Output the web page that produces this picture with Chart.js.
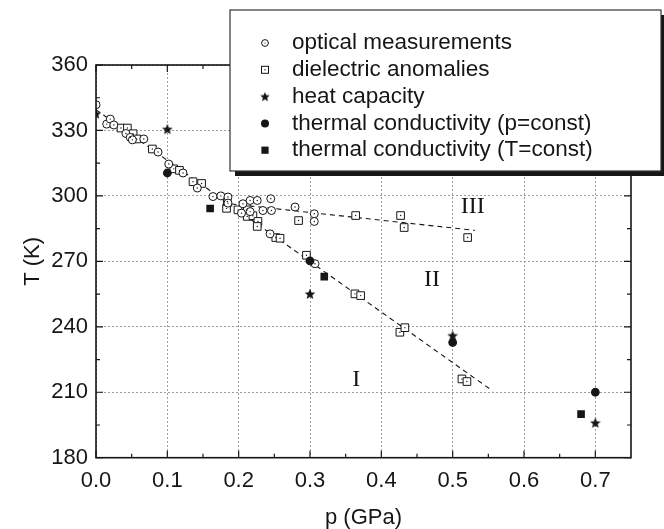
<!DOCTYPE html>
<html>
<head>
<meta charset="utf-8">
<script src="https://cdn.jsdelivr.net/npm/chart.js"></script>
<style>
  html, body { margin: 0; padding: 0; background: #fff; }
  #wrap { width: 664px; height: 529px; }
</style>
</head>
<body>
<div id="wrap"><canvas id="phaseChart" width="664" height="529"></canvas></div>
<script>
// values, p in GPa, T in K
const opticalP = [0.000, 0.015, 0.020, 0.025, 0.042, 0.048, 0.051, 0.067, 0.087, 0.102, 0.122, 0.142,
  0.164, 0.175, 0.185, 0.185, 0.204, 0.206, 0.216, 0.216, 0.226, 0.234, 0.244, 0.245, 0.246, 0.279,
  0.306, 0.306, 0.307];
const opticalT = [341.8, 332.9, 335.2, 332.5, 328.6, 326.8, 325.7, 326.1, 320.1, 314.6, 310.5, 303.6,
  299.7, 300.0, 299.5, 296.7, 292.1, 296.4, 297.9, 292.8, 297.9, 293.3, 282.6, 298.7, 293.3, 294.9,
  291.8, 288.3, 268.9];

const dielectricP = [0.035, 0.044, 0.052, 0.057, 0.079, 0.109, 0.117, 0.136, 0.148, 0.183, 0.184, 0.199,
  0.212, 0.212, 0.220, 0.227, 0.226, 0.252, 0.258, 0.284, 0.295, 0.364, 0.363, 0.371, 0.427, 0.432,
  0.426, 0.433, 0.513, 0.520, 0.521];
const dielectricT = [331.1, 331.1, 328.5, 326.1, 321.5, 312.4, 311.7, 306.5, 305.7, 294.3, 297.4, 293.6,
  290.6, 293.6, 290.9, 288.3, 286.0, 280.9, 280.6, 288.7, 272.8, 291.0, 255.1, 254.3, 291.0, 285.5,
  237.5, 239.6, 216.1, 214.9, 280.9];

const heatP = [0.0, 0.1, 0.3, 0.5, 0.7];
const heatT = [337.7, 330.6, 255.1, 236.0, 196.0];

const condPconstP = [0.1, 0.3, 0.5, 0.7];
const condPconstT = [310.5, 270.2, 232.8, 210.0];

const condTconstP = [0.16, 0.32, 0.68];
const condTconstT = [294.2, 263.0, 200.0];

// dashed phase boundaries
const boundaryIP = [0.0, 0.556];
const boundaryIT = [339.5, 210.6];
const boundaryIIIP = [0.19, 0.531];
const boundaryIIIT = [296.3, 284.2];

// phase labels
const regionNames = ['I', 'II', 'III'];
const regionP = [0.365, 0.471, 0.528];
const regionT = [215.6, 261.5, 295.0];

const xTicks = [0.0, 0.1, 0.2, 0.3, 0.4, 0.5, 0.6, 0.7];
const yTicks = [180, 210, 240, 270, 300, 330, 360];

const toPoints = (ps, ts) => ps.map((p, i) => ({ x: p, y: ts[i] }));

const INK = '#161616';

// filled five-point star, drawn at a larger scale so the edges stay dark
function makeStar(s) {
  const size = Math.ceil(s * 2 + 2);
  const c = document.createElement('canvas');
  c.width = size; c.height = size;
  const g = c.getContext('2d');
  const m = size / 2;
  g.fillStyle = INK;
  g.beginPath();
  for (let i = 0; i < 10; i++) {
    const r = i % 2 === 0 ? s : s * 0.45;
    const ang = -Math.PI / 2 + i * Math.PI / 5;
    g.lineTo(m + r * Math.cos(ang), m + r * Math.sin(ang) + s * 0.08);
  }
  g.closePath();
  g.fill();
  return c;
}
const starMarker = makeStar(5.6);
const starLegend = makeStar(5.0);

const openStyle = (shape, r) => ({
  showLine: false,
  pointStyle: shape,
  pointRadius: r,
  pointHoverRadius: r,
  pointBorderWidth: 1,
  pointBorderColor: INK,
  pointBackgroundColor: '#fff'
});
const solidStyle = (shape, r) => ({
  showLine: false,
  pointStyle: shape,
  pointRadius: r,
  pointHoverRadius: r,
  pointBorderWidth: 0,
  pointBorderColor: INK,
  pointBackgroundColor: INK
});
// tiny centre dot of the open markers
const dotStyle = {
  showLine: false,
  pointStyle: 'circle',
  pointRadius: 0.7,
  pointHoverRadius: 0.7,
  pointBorderWidth: 0,
  pointBackgroundColor: INK
};

const boundaryStyle = {
  showLine: true,
  borderColor: INK,
  borderWidth: 1.1,
  borderDash: [5, 4],
  pointRadius: 0,
  fill: false
};

function legendMarker(ctx, i, x, y) {
  ctx.save();
  ctx.strokeStyle = INK;
  ctx.fillStyle = INK;
  ctx.lineWidth = 1;
  if (i === 0) {
    ctx.beginPath(); ctx.arc(x, y, 3.4, 0, Math.PI * 2); ctx.stroke();
    ctx.beginPath(); ctx.arc(x, y, 0.6, 0, Math.PI * 2); ctx.fill();
  } else if (i === 1) {
    ctx.strokeRect(x - 3.5, y - 3.5, 7, 7);
    ctx.fillRect(x - 0.6, y - 0.6, 1.2, 1.2);
  } else if (i === 2) {
    ctx.drawImage(starLegend, x - starLegend.width / 2, y - starLegend.height / 2);
  } else if (i === 3) {
    ctx.beginPath(); ctx.arc(x, y, 4, 0, Math.PI * 2); ctx.fill();
  } else {
    ctx.fillRect(x - 3.6, y - 3.6, 7.2, 7.2);
  }
  ctx.restore();
}

// frame with inward ticks, phase labels and the boxed legend
const figureDecor = {
  id: 'figureDecor',
  afterDatasetsDraw(chart) {
    const { ctx, chartArea: a, scales: { x, y } } = chart;
    ctx.save();
    ctx.fillStyle = INK;
    ctx.font = "24px 'Liberation Serif', 'Times New Roman', serif";
    ctx.textAlign = 'center';
    ctx.textBaseline = 'middle';
    regionNames.forEach((n, i) => {
      ctx.fillText(n, x.getPixelForValue(regionP[i]), y.getPixelForValue(regionT[i]));
    });

    ctx.strokeStyle = INK;
    ctx.lineWidth = 1.2;
    const xTick = (v, len) => {
      const px = x.getPixelForValue(v);
      ctx.beginPath();
      ctx.moveTo(px, a.bottom); ctx.lineTo(px, a.bottom - len);
      ctx.moveTo(px, a.top); ctx.lineTo(px, a.top + len);
      ctx.stroke();
    };
    const yTick = (v, len) => {
      const py = y.getPixelForValue(v);
      ctx.beginPath();
      ctx.moveTo(a.left, py); ctx.lineTo(a.left + len, py);
      ctx.moveTo(a.right, py); ctx.lineTo(a.right - len, py);
      ctx.stroke();
    };
    xTicks.forEach(v => { xTick(v, 7); if (v + 0.05 < x.max) xTick(v + 0.05, 4); });
    yTicks.forEach(v => { yTick(v, 7); if (v + 15 < y.max) yTick(v + 15, 4); });

    ctx.lineWidth = 1.6;
    ctx.strokeRect(a.left, a.top, a.right - a.left, a.bottom - a.top);
    ctx.restore();
  },
  afterDraw(chart) {
    const { ctx } = chart;
    const box = { left: 230, top: 10, right: 661, bottom: 171 };
    ctx.save();
    ctx.fillStyle = INK;
    ctx.fillRect(box.left + 5, box.top + 5, box.right - box.left, box.bottom - box.top);
    ctx.fillStyle = '#fff';
    ctx.fillRect(box.left, box.top, box.right - box.left, box.bottom - box.top);
    ctx.strokeStyle = '#333';
    ctx.lineWidth = 1.2;
    ctx.strokeRect(box.left, box.top, box.right - box.left, box.bottom - box.top);

    ctx.font = "22.5px 'Liberation Sans', Arial, sans-serif";
    ctx.fillStyle = INK;
    ctx.textAlign = 'left';
    ctx.textBaseline = 'middle';
    const labelled = chart.data.datasets.filter(d => d.label);
    labelled.forEach((d, i) => {
      const rowY = 43 + i * 26.8;
      legendMarker(ctx, i, 265, rowY);
      ctx.fillText(d.label, 292, rowY);
    });
    ctx.restore();
  }
};

Chart.defaults.font.family = "'Liberation Sans', Arial, sans-serif";
Chart.defaults.color = INK;

const phaseCtx = document.getElementById('phaseChart').getContext('2d');

const phaseChart = new Chart(phaseCtx, {
  type: 'scatter',
  data: {
    datasets: [
      { label: 'optical measurements', data: toPoints(opticalP, opticalT), order: 6, ...openStyle('circle', 4) },
      { label: 'dielectric anomalies', data: toPoints(dielectricP, dielectricT), order: 6, ...openStyle('rect', 5.4) },
      { label: 'heat capacity', data: toPoints(heatP, heatT), order: 3, showLine: false, pointStyle: starMarker, pointRadius: 6, pointHoverRadius: 6 },
      { label: 'thermal conductivity (p=const)', data: toPoints(condPconstP, condPconstT), order: 2, ...solidStyle('circle', 4.4) },
      { label: 'thermal conductivity (T=const)', data: toPoints(condTconstP, condTconstT), order: 1, ...solidStyle('rect', 5.4) },
      { data: toPoints(opticalP, opticalT), order: 5, ...dotStyle },
      { data: toPoints(dielectricP, dielectricT), order: 5, ...dotStyle },
      { data: toPoints(boundaryIP, boundaryIT), order: 9, ...boundaryStyle },
      { data: toPoints(boundaryIIIP, boundaryIIIT), order: 9, ...boundaryStyle }
    ]
  },
  options: {
    responsive: false,
    animation: false,
    layout: { padding: { left: 0, top: 65, right: 33, bottom: 0 } },
    plugins: {
      legend: { display: false },
      tooltip: { enabled: false }
    },
    scales: {
      x: {
        type: 'linear',
        min: 0,
        max: 0.75,
        afterBuildTicks: s => { s.ticks = xTicks.map(v => ({ value: v })); },
        afterFit: s => { s.height = 71.3; },
        grid: { color: '#9c9c9c', lineWidth: 1, drawTicks: false },
        border: { display: false, dash: [2, 2] },
        ticks: {
          padding: 10,
          maxRotation: 0,
          autoSkip: false,
          font: { size: 22 },
          callback: v => Number(v).toFixed(1)
        },
        title: { display: true, text: 'p (GPa)', font: { size: 22 }, padding: { top: 0, bottom: -2 } }
      },
      y: {
        type: 'linear',
        min: 180,
        max: 360,
        afterBuildTicks: s => { s.ticks = yTicks.map(v => ({ value: v })); },
        afterFit: s => { s.width = 96; },
        grid: { color: '#9c9c9c', lineWidth: 1, drawTicks: false },
        border: { display: false, dash: [2, 2] },
        ticks: { padding: 8, autoSkip: false, font: { size: 22 } },
        title: { display: true, text: 'T (K)', font: { size: 22 }, padding: { top: 20, bottom: 0 } }
      }
    }
  },
  plugins: [figureDecor]
});
</script>
</body>
</html>
